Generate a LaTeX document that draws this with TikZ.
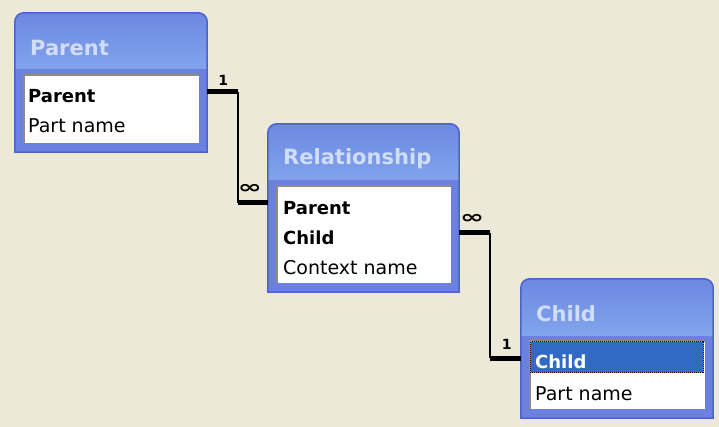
\documentclass[tikz,border=0pt]{standalone}
\usepackage{fontspec}
\usepackage{graphicx}
\setmainfont{DejaVu Sans}
\usetikzlibrary{calc}

\definecolor{desk}{HTML}{ECE9D8}
\definecolor{frameblue}{HTML}{6C80E0}
\definecolor{frameedge}{HTML}{4D63CC}
\definecolor{titletop}{HTML}{6C88E2}
\definecolor{titlebot}{HTML}{82A4EC}
\definecolor{titletext}{HTML}{D0DEF8}
\definecolor{insetdark}{HTML}{8E8C7E}
\definecolor{selblue}{HTML}{316AC5}
\definecolor{focusgold}{HTML}{D8A020}

\tikzset{
  tabtitle/.style={anchor=west, inner sep=0pt, text=titletext,
                   font=\fontsize{21}{21}\selectfont\bfseries},
  keyrow/.style={anchor=base west, inner sep=0pt,
                 font=\fontsize{18}{18}\selectfont\bfseries},
  plainrow/.style={anchor=base west, inner sep=0pt,
                   font=\fontsize{19}{19}\selectfont},
  card/.style={inner sep=0pt, font=\fontsize{14}{14}\selectfont\bfseries},
  many/.style={inner sep=0pt, font=\fontsize{18}{18}\selectfont\bfseries},
  stub/.style={line width=5pt, line cap=butt},
  riser/.style={line width=2pt},
}

% #1 name, (#2,#3) top-left corner, (#4,#5) bottom-right corner, #6 title
\newcommand\erdtable[6]{%
  \node[inner sep=0pt, minimum width={#4-#2}, minimum height={#5-#3}]
    (#1) at ({(#2+#4)/2},{(#3+#5)/2}) {};
  \fill[frameblue] (#1.west) [rounded corners=9pt] -- (#1.north west)
    -- (#1.north east) -- (#1.east) [sharp corners] -- (#1.south east)
    -- (#1.south west) -- cycle;
  \begin{scope}
    \clip (#1.west) [rounded corners=9pt] -- (#1.north west)
      -- (#1.north east) -- (#1.east) [sharp corners] -- (#1.south east)
      -- (#1.south west) -- cycle;
    \shade[top color=titletop, bottom color=titlebot]
      (#2,#3) rectangle (#4,{#3+56});
  \end{scope}
  \draw[frameedge, line width=1.5pt] (#1.west) [rounded corners=9pt]
    -- (#1.north west) -- (#1.north east) -- (#1.east) [sharp corners]
    -- (#1.south east) -- (#1.south west) -- cycle;
  \fill[white] ({#2+8},{#3+61}) rectangle ({#4-8},{#5-9});
  \draw[insetdark, line width=2pt] ({#2+9},{#5-9}) -- ({#2+9},{#3+62})
    -- ({#4-8},{#3+62});
  \node[tabtitle] (#1-title) at ({#2+15},{#3+35}) {#6};
}

\begin{document}
\begin{tikzpicture}[x=1pt, y=-1pt]
  \fill[desk] (0,0) rectangle (719,427);
  \useasboundingbox (0,0) rectangle (719,427);

  % tables
  \erdtable{parent}{15}{13}{207}{152}{Parent}
  \erdtable{rel}{268}{124}{459}{292}{Relationship}
  \erdtable{child}{521}{279}{713}{418}{Child}

  % Parent fields
  \node[keyrow] (prow1) at (28,103) {Parent};
  \node[plainrow] (prow2) at (28,133) {Part name};

  % Relationship fields
  \node[keyrow] (rrow1) at (283,215) {Parent};
  \node[keyrow] (rrow2) at (283,245) {Child};
  \node[plainrow] (rrow3) at (283,275) {Context name};

  % Child fields, first one selected
  \fill[selblue] (530,341) rectangle (704,373);
  \draw[focusgold, line width=1pt] (530.5,341.5) rectangle (703.5,372.5);
  \draw[black, line width=1pt, dash pattern=on 1pt off 1pt]
    (530.5,341.5) rectangle (703.5,372.5);
  \node[keyrow, text=white] (crow1) at (535,368) {Child};
  \node[plainrow] (crow2) at (535,400) {Part name};

  % Parent 1 -- many Relationship
  \coordinate (pa) at ($(prow1.base -| parent.east)+(0,-11)$);
  \coordinate (rb) at ($(rrow1.base -| rel.west)+(0,-12)$);
  \coordinate (j1) at ($(pa)+(31,0)$);
  \coordinate (j2) at (j1 |- rb);
  \draw[stub] (pa) -- (j1);
  \draw[riser] (j1) -- (j2);
  \draw[stub] (j2) -- (rb);
  \node[card] (one1) at ($(pa)+(16,-12)$) {1};
  \node[many] (inf1) at ($(rb)+(-18,-14)$) {\scalebox{1.6}[1]{∞}};

  % Child 1 -- many Relationship
  \coordinate (ra) at ($(rrow2.base -| rel.east)+(0,-12)$);
  \coordinate (cb) at ($(crow1.base -| child.west)+(0,-10)$);
  \coordinate (j3) at ($(ra)+(31,0)$);
  \coordinate (j4) at (j3 |- cb);
  \draw[stub] (ra) -- (j3);
  \draw[riser] (j3) -- (j4);
  \draw[stub] (j4) -- (cb);
  \node[many] (inf2) at ($(ra)+(13,-14)$) {\scalebox{1.6}[1]{∞}};
  \node[card] (one2) at ($(cb)+(-14,-14)$) {1};
\end{tikzpicture}
\end{document}
